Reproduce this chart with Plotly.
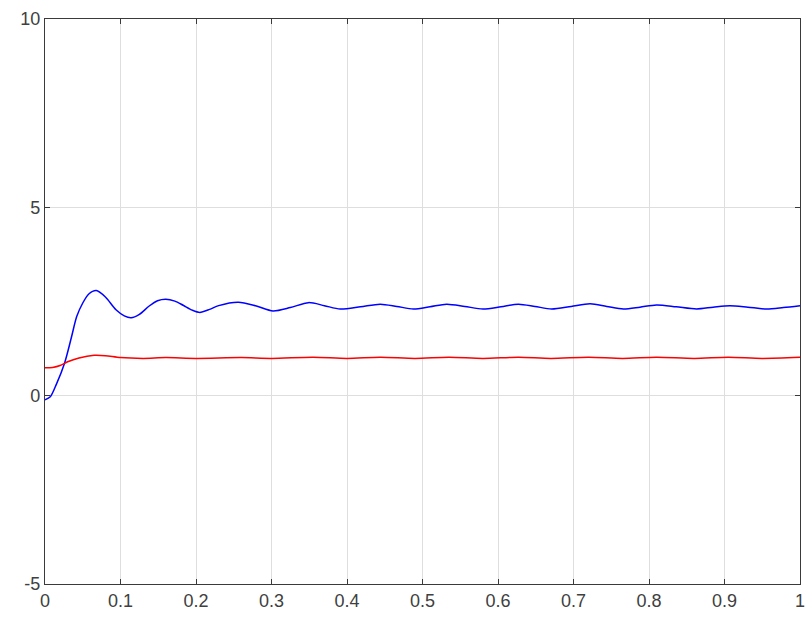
import plotly.graph_objects as go

# Blue series (time, value)
t_blue = [0, 0.007, 0.015, 0.026, 0.035, 0.042, 0.05, 0.058, 0.068, 0.08, 0.094, 0.105,
          0.114, 0.125, 0.138, 0.149, 0.16, 0.172, 0.183, 0.195, 0.205, 0.218, 0.23,
          0.256, 0.28, 0.302, 0.325, 0.349, 0.37, 0.391, 0.418, 0.444, 0.466, 0.488,
          0.51, 0.532, 0.556, 0.58, 0.604, 0.627, 0.649, 0.671, 0.697, 0.722, 0.744,
          0.766, 0.788, 0.81, 0.836, 0.863, 0.885, 0.907, 0.931, 0.956, 0.978, 1.0]
y_blue = [-0.11, -0.03, 0.3, 0.87, 1.55, 2.1, 2.46, 2.7, 2.79, 2.62, 2.28, 2.12,
          2.07, 2.16, 2.38, 2.52, 2.56, 2.51, 2.4, 2.27, 2.21, 2.29, 2.39,
          2.48, 2.38, 2.25, 2.34, 2.47, 2.39, 2.30, 2.36, 2.43, 2.37, 2.30,
          2.36, 2.43, 2.37, 2.30, 2.36, 2.43, 2.37, 2.30, 2.37, 2.44, 2.37,
          2.30, 2.35, 2.41, 2.36, 2.30, 2.35, 2.39, 2.35, 2.30, 2.34, 2.39]

# Red series (time, value)
t_red = [0, 0.01, 0.02, 0.03, 0.045, 0.065, 0.08, 0.1, 0.13, 0.16, 0.2, 0.26, 0.3,
         0.355, 0.4, 0.444, 0.49, 0.535, 0.58, 0.627, 0.67, 0.72, 0.765, 0.81, 0.86,
         0.905, 0.95, 1.0]
y_red = [0.74, 0.75, 0.8, 0.9, 1.0, 1.07, 1.06, 1.01, 0.99, 1.01, 0.99, 1.01, 0.99,
         1.02, 0.99, 1.02, 0.99, 1.02, 0.99, 1.02, 0.99, 1.02, 0.99, 1.02, 0.99,
         1.02, 0.99, 1.02]

x_ticks = [0, 0.1, 0.2, 0.3, 0.4, 0.5, 0.6, 0.7, 0.8, 0.9, 1]
x_tick_labels = ["0", "0.1", "0.2", "0.3", "0.4", "0.5", "0.6", "0.7", "0.8", "0.9", "1"]
y_ticks = [-5, 0, 5, 10]
y_tick_labels = ["-5", "0", "5", "10"]

fig = go.Figure()
fig.add_trace(go.Scatter(x=t_blue, y=y_blue, mode="lines",
                         line=dict(color="#0000ff", width=1.5, shape="spline", smoothing=0.8),
                         showlegend=False))
fig.add_trace(go.Scatter(x=t_red, y=y_red, mode="lines",
                         line=dict(color="#ff0000", width=1.5, shape="spline", smoothing=0.8),
                         showlegend=False))

axis_common = dict(
    showgrid=True, gridcolor="#dedede", gridwidth=1,
    showline=True, linecolor="#3a3a3a", linewidth=1.3, mirror="ticks",
    ticks="inside", ticklen=5, tickcolor="#3a3a3a",
    zeroline=False, automargin=False,
    tickfont=dict(family="Liberation Sans, Arial", size=18, color="#404040"),
)

fig.update_layout(
    width=808, height=619,
    margin=dict(l=45, r=8, t=19, b=35),
    paper_bgcolor="white", plot_bgcolor="white",
    xaxis=dict(range=[0, 1], tickvals=x_ticks, ticktext=x_tick_labels, **axis_common),
    yaxis=dict(range=[-5, 10], tickvals=y_ticks, ticktext=y_tick_labels, **axis_common),
)

fig.write_html(
    "out.html",
    config={"displayModeBar": False},
    post_script="document.body.style.margin='0';document.body.style.overflow='hidden';",
)
